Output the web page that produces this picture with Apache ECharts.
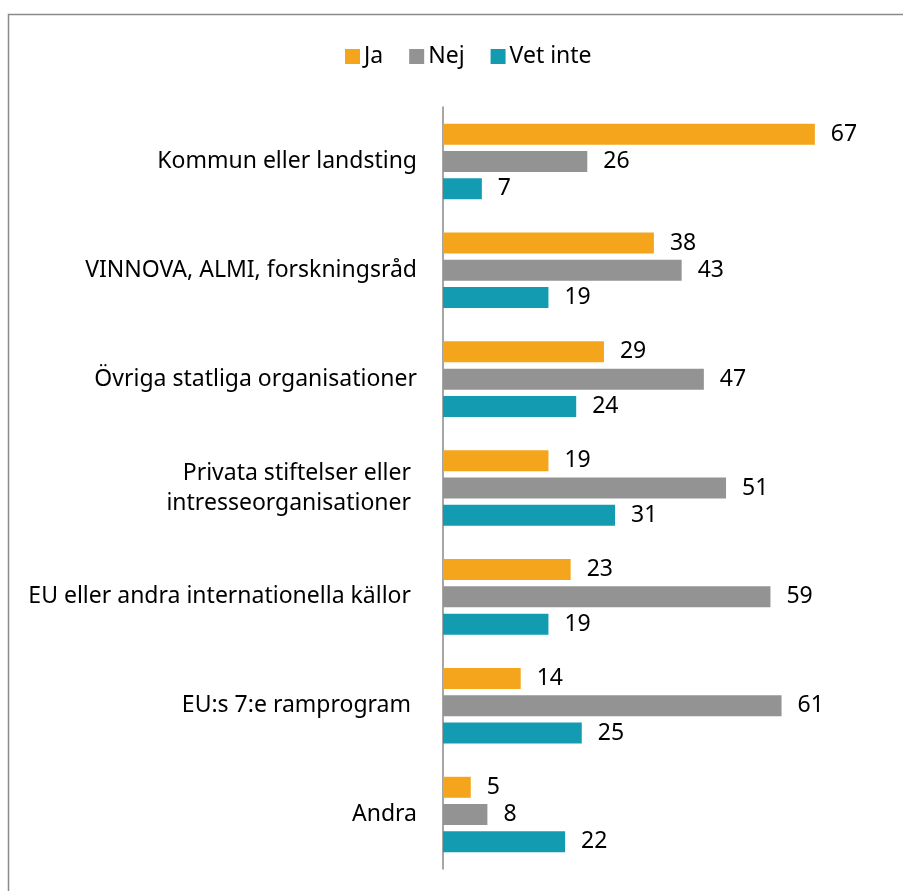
<!DOCTYPE html>
<html>
<head>
<meta charset="utf-8">
<script src="https://cdn.jsdelivr.net/npm/echarts@6/dist/echarts.min.js"></script>
<style>
  html, body { margin: 0; padding: 0; background: #fff; }
  #main { width: 903px; height: 891px; }
</style>
</head>
<body>
<div id="main"></div>
<script>
var categories = [
  'Kommun eller landsting',
  'VINNOVA, ALMI, forskningsråd',
  'Övriga statliga organisationer',
  'Privata stiftelser eller \nintresseorganisationer ',
  'EU eller andra internationella källor ',
  'EU:s 7:e ramprogram ',
  'Andra'
];
var ja = [67, 38, 29, 19, 23, 14, 5];
var nej = [26, 43, 47, 51, 59, 61, 8];
var vetInte = [7, 19, 24, 31, 19, 25, 22];

var myChart = echarts.init(document.getElementById('main'));

var font = 'Noto Sans';
var fsize = 23;
var labelStyle = {
  show: true,
  position: 'right',
  distance: 16,
  color: '#000',
  fontFamily: font,
  fontSize: fsize
};

var option = {
  backgroundColor: '#fff',
  animation: false,
  graphic: [{
    type: 'rect',
    shape: { x: 8.5, y: 14.5, width: 1000, height: 1000 },
    style: { fill: 'none', stroke: '#8a8a8a', lineWidth: 1.5 },
    silent: true
  }],
  legend: {
    top: 40,
    left: 340,
    itemWidth: 15,
    itemHeight: 15,
    itemGap: 26,
    icon: 'rect',
    textStyle: { color: '#000', fontFamily: font, fontSize: fsize, padding: [0, 0, 0, -1] },
    data: ['Ja', 'Nej', 'Vet inte']
  },
  grid: {
    left: 443,
    right: 16,
    top: 107,
    bottom: 22
  },
  xAxis: {
    type: 'value',
    min: 0,
    max: 80,
    show: false
  },
  yAxis: {
    type: 'category',
    inverse: true,
    data: categories,
    axisLine: { lineStyle: { color: '#888', width: 1.5 } },
    axisTick: { show: false },
    axisLabel: {
      color: '#000',
      fontFamily: font,
      fontSize: fsize,
      margin: 26,
      lineHeight: 30
    }
  },
  series: [
    {
      name: 'Ja',
      type: 'bar',
      data: ja,
      barWidth: 21,
      barGap: '30%',
      itemStyle: { color: '#F5A51B' },
      label: labelStyle
    },
    {
      name: 'Nej',
      type: 'bar',
      data: nej,
      barWidth: 21,
      barGap: '30%',
      itemStyle: { color: '#939393' },
      label: labelStyle
    },
    {
      name: 'Vet inte',
      type: 'bar',
      data: vetInte,
      barWidth: 21,
      barGap: '30%',
      itemStyle: { color: '#129BB1' },
      label: labelStyle
    }
  ]
};

myChart.setOption(option);
</script>
</body>
</html>
